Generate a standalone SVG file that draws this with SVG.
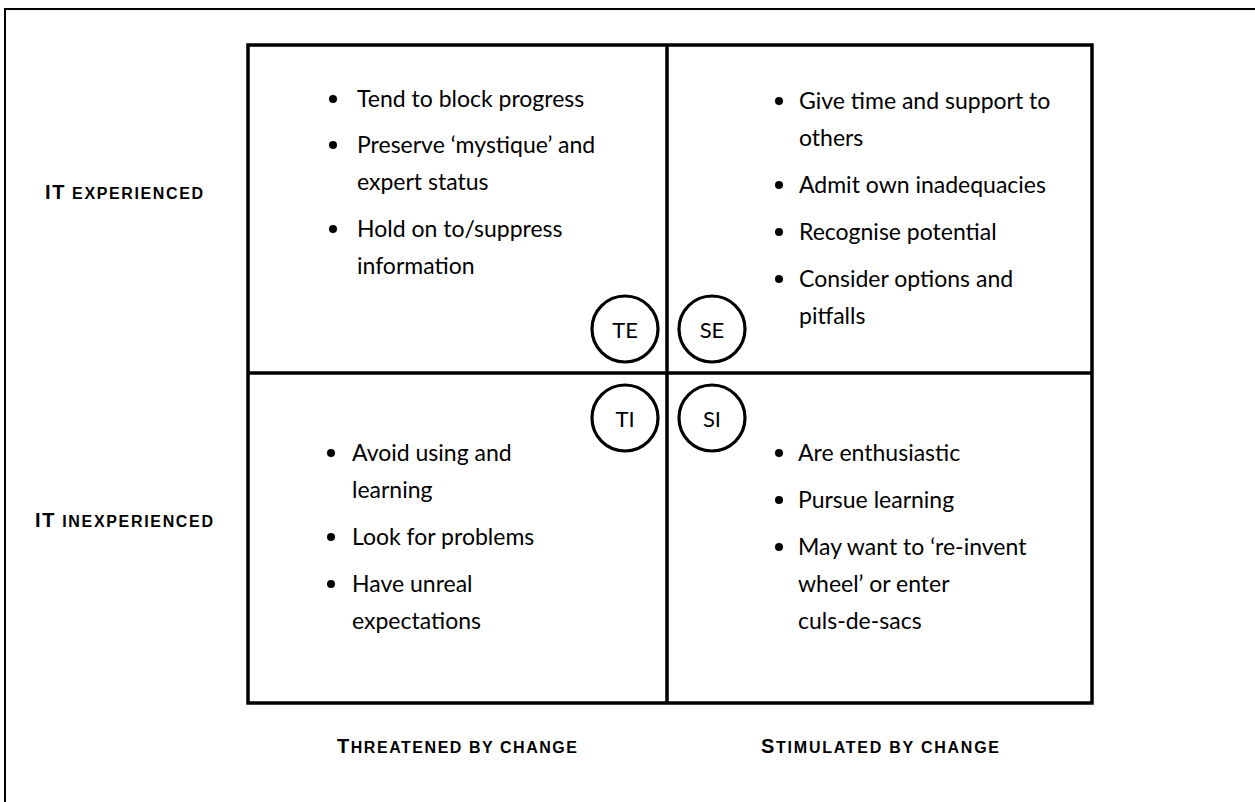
<svg xmlns="http://www.w3.org/2000/svg" width="1255" height="802" viewBox="0 0 1255 802">
<style>
  .frame{fill:none;stroke:#000;stroke-width:2}
  .grid{fill:none;stroke:#000;stroke-width:3.5}
  .circ{fill:#fff;stroke:#000;stroke-width:3.2}
  .body{font-family:Lato,"Open Sans","Liberation Sans",sans-serif;font-size:23px;fill:#000}
  .clab{font-family:Lato,"Open Sans","Liberation Sans",sans-serif;font-size:22px;fill:#000;text-anchor:middle;dominant-baseline:central}
  .axis{font-family:"Liberation Sans",Arial,sans-serif;font-weight:bold;fill:#000;font-size:16px;text-anchor:middle}
  .big{font-size:20px}
</style>
<rect width="1255" height="802" fill="#fff"/>
<path class="frame" d="M5,802 V9 H1255"/>

<g id="grid">
  <rect class="grid" x="248" y="45" width="844" height="658"/>
  <line class="grid" x1="667" y1="45" x2="667" y2="703"/>
  <line class="grid" x1="248" y1="373" x2="1092" y2="373"/>
</g>

<g id="axis-labels">
  <text class="axis" x="124" y="199" textLength="158" lengthAdjust="spacing"><tspan class="big">IT</tspan> EXPERIENCED</text>
  <text class="axis" x="124" y="527" textLength="178" lengthAdjust="spacing"><tspan class="big">IT</tspan> INEXPERIENCED</text>
  <text class="axis" x="457" y="753" textLength="240" lengthAdjust="spacing"><tspan class="big">T</tspan>HREATENED BY CHANGE</text>
  <text class="axis" x="880" y="753" textLength="238" lengthAdjust="spacing"><tspan class="big">S</tspan>TIMULATED BY CHANGE</text>
</g>

<g id="q-te" class="body">
  <circle cx="333" cy="99" r="4"/><text x="357" y="107">Tend to block progress</text>
  <circle cx="333" cy="145" r="4"/><text x="357" y="153">Preserve ‘mystique’ and</text>
  <text x="357" y="190">expert status</text>
  <circle cx="333" cy="229" r="4"/><text x="357" y="237">Hold on to/suppress</text>
  <text x="357" y="274">information</text>
</g>

<g id="q-se" class="body">
  <circle cx="779" cy="101" r="4"/><text x="799" y="109">Give time and support to</text>
  <text x="799" y="146">others</text>
  <circle cx="779" cy="185" r="4"/><text x="799" y="193">Admit own inadequacies</text>
  <circle cx="779" cy="232" r="4"/><text x="799" y="240">Recognise potential</text>
  <circle cx="779" cy="279" r="4"/><text x="799" y="287">Consider options and</text>
  <text x="799" y="324">pitfalls</text>
</g>

<g id="q-ti" class="body">
  <circle cx="331" cy="453" r="4"/><text x="352" y="461">Avoid using and</text>
  <text x="352" y="498">learning</text>
  <circle cx="331" cy="537" r="4"/><text x="352" y="545">Look for problems</text>
  <circle cx="331" cy="584" r="4"/><text x="352" y="592">Have unreal</text>
  <text x="352" y="629">expectations</text>
</g>

<g id="q-si" class="body">
  <circle cx="779" cy="453" r="4"/><text x="798" y="461">Are enthusiastic</text>
  <circle cx="779" cy="500" r="4"/><text x="798" y="508">Pursue learning</text>
  <circle cx="779" cy="547" r="4"/><text x="798" y="555">May want to ‘re-invent</text>
  <text x="798" y="592">wheel’ or enter</text>
  <text x="798" y="629">culs-de-sacs</text>
</g>

<g id="node-TE"><circle class="circ" cx="625" cy="329" r="33"/><text class="clab" x="625" y="329">TE</text></g>
<g id="node-SE"><circle class="circ" cx="712" cy="329" r="33"/><text class="clab" x="712" y="329">SE</text></g>
<g id="node-TI"><circle class="circ" cx="625" cy="418" r="33"/><text class="clab" x="625" y="418">TI</text></g>
<g id="node-SI"><circle class="circ" cx="712" cy="418" r="33"/><text class="clab" x="712" y="418">SI</text></g>
</svg>
